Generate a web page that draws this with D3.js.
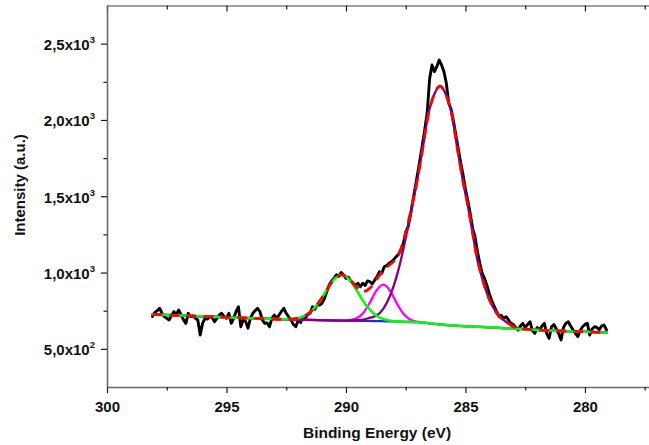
<!DOCTYPE html>
<html>
<head>
<meta charset="utf-8">
<script src="https://cdn.jsdelivr.net/npm/d3@7"></script>
<style>
  html, body { margin: 0; padding: 0; background: #ffffff; }
  svg { display: block; }
  text { font-family: "Liberation Sans", Arial, sans-serif; font-weight: bold; fill: #111; }
</style>
</head>
<body>
<svg id="chart" width="649" height="445"></svg>
<script>
// ---- C 1s spectrum: measured counts ----
const rawEnergy = [
  298.1, 298.0, 297.9, 297.8, 297.7, 297.6, 297.5, 297.4, 297.3, 297.2,
  297.1, 297.0, 296.9, 296.8, 296.7, 296.6, 296.5, 296.4, 296.3, 296.2,
  296.1, 296.0, 295.9, 295.8, 295.7, 295.6, 295.5, 295.4, 295.3, 295.2,
  295.1, 295.0, 294.9, 294.8, 294.7, 294.6, 294.5, 294.4, 294.3, 294.2,
  294.1, 294.0, 293.9, 293.8, 293.7, 293.6, 293.5, 293.4, 293.3, 293.2,
  293.1, 293.0, 292.9, 292.8, 292.7, 292.6, 292.5, 292.4, 292.3, 292.2,
  292.1, 292.0, 291.9, 291.8, 291.7, 291.6, 291.5, 291.4, 291.3, 291.2,
  291.1, 291.0, 290.9, 290.8, 290.7, 290.6, 290.5, 290.4, 290.3, 290.2,
  290.1, 290.0, 289.9, 289.8, 289.7, 289.6, 289.5, 289.4, 289.3, 289.2,
  289.1, 289.0, 288.9, 288.8, 288.7, 288.6, 288.5, 288.4, 288.3, 288.2,
  288.1, 288.0, 287.9, 287.8, 287.7, 287.6, 287.5, 287.4, 287.3, 287.2,
  287.1, 287.0, 286.9, 286.8, 286.7, 286.6, 286.5, 286.4, 286.3, 286.2,
  286.1, 286.0, 285.9, 285.8, 285.7, 285.6, 285.5, 285.4, 285.3, 285.2,
  285.1, 285.0, 284.9, 284.8, 284.7, 284.6, 284.5, 284.4, 284.3, 284.2,
  284.1, 284.0, 283.9, 283.8, 283.7, 283.6, 283.5, 283.4, 283.3, 283.2,
  283.1, 283.0, 282.9, 282.8, 282.7, 282.6, 282.5, 282.4, 282.3, 282.2,
  282.1, 282.0, 281.9, 281.8, 281.7, 281.6, 281.5, 281.4, 281.3, 281.2,
  281.1, 281.0, 280.9, 280.8, 280.7, 280.6, 280.5, 280.4, 280.3, 280.2,
  280.1, 280.0, 279.9, 279.8, 279.7, 279.6, 279.5, 279.4, 279.3, 279.2,
  279.1
];
const rawIntensity = [
  712, 738, 750, 766, 735, 711, 700, 689, 720, 743,
  725, 755, 722, 690, 667, 733, 711, 716, 700, 689,
  591, 667, 700, 695, 711, 705, 678, 700, 722, 733,
  712, 700, 733, 667, 700, 745, 776, 645, 690, 680,
  635, 700, 733, 750, 766, 743, 690, 667, 670, 645,
  700, 722, 700, 722, 745, 766, 733, 710, 689, 660,
  645, 690, 672, 711, 700, 725, 733, 776, 760, 790,
  787, 800, 830, 875, 920, 945, 962, 985, 975, 1000,
  985, 962, 970, 945, 930, 915, 930, 907, 930, 915,
  945, 940, 925, 950, 973, 1005, 995, 1038, 1045, 1060,
  1071, 1085, 1104, 1120, 1148, 1190, 1265, 1300, 1380, 1470,
  1560, 1650, 1745, 1840, 1940, 2050, 2270, 2360, 2316, 2349,
  2393, 2360, 2316, 2240, 2109, 2070, 1990, 1900, 1810, 1720,
  1640, 1545, 1470, 1385, 1290, 1235, 1140, 1060, 995, 960,
  915, 860, 815, 780, 745, 712, 720, 700, 711, 690,
  667, 660, 640, 624, 650, 667, 640, 660, 678, 620,
  601, 640, 624, 650, 667, 600, 569, 645, 660, 630,
  601, 558, 640, 667, 678, 650, 625, 601, 580, 620,
  645, 660, 667, 591, 630, 645, 640, 625, 650, 656,
  624
];

// ---- background (blue) ----
const baseEnergy    = [298.1, 296, 294, 292, 290, 288, 287, 286, 285, 284, 283, 282, 281, 280, 279.1];
const baseIntensity = [726, 713, 701, 691, 685, 680, 675, 659, 648, 641, 632, 624, 617, 612, 606];

// ---- component near 290.2 eV (green), drawn on the background ----
const peakAEnergy = [298.1, 296, 294, 292.58, 292.28, 291.98, 291.68, 291.38, 291.08, 290.78, 290.48,
  290.18, 289.88, 289.58, 289.28, 288.98, 288.68, 288.38, 288.08, 287.78, 287, 286, 285, 284, 283,
  282, 281, 280, 279.1];
const peakAIntensity = [726, 713, 701, 694, 695, 702, 720, 758, 818, 893, 958,
  984, 957, 890, 813, 752, 712, 692, 683, 679, 675, 659, 648, 641, 632,
  624, 617, 612, 606];

// ---- component near 288.4 eV (magenta) ----
const peakBEnergy = [298.1, 296, 294, 292, 290, 289.84, 289.56, 289.28, 289.0, 288.72, 288.44,
  288.16, 287.88, 287.6, 287.32, 287.04, 286.7, 286, 285, 284, 283, 282, 281, 280, 279.1];
const peakBIntensity = [726, 713, 701, 691, 685, 688, 700, 735, 804, 884, 921,
  882, 800, 730, 693, 678, 670, 659, 648, 641, 632, 624, 617, 612, 606];

// ---- main component near 286.1 eV (purple) ----
const peakCEnergy = [298.1, 296, 294, 292, 290, 289.4, 289.0, 288.72, 288.44, 288.16, 287.88,
  287.67, 287.46, 287.25, 287.04, 286.8, 286.55, 286.3, 286.07, 285.83, 285.58, 285.33, 285.09,
  284.88, 284.7, 284.53, 284.32, 284.05, 283.69, 283.21, 282.8, 282, 281, 280, 279.1];
const peakCIntensity = [726, 713, 701, 691, 685, 689, 704, 718, 762, 846, 975,
  1104, 1257, 1421, 1585, 1803, 2040, 2170, 2222, 2170, 2040, 1803, 1585,
  1421, 1257, 1104, 973, 842, 733, 667, 634, 624, 617, 612, 606];

// ---- cumulative fit (red, dashed) ----
const fitEnergy = [298.1, 296, 294, 292.58, 292.28, 291.98, 291.68, 291.38, 291.08, 290.78, 290.48,
  290.18, 289.88, 289.58, 289.28, 288.98, 288.68, 288.44, 288.16, 287.88, 287.67, 287.46, 287.25,
  287.04, 286.8, 286.55, 286.3, 286.07, 285.83, 285.58, 285.33, 285.09, 284.88, 284.7, 284.53,
  284.32, 284.05, 283.69, 283.21, 282.8, 282, 281, 280, 279.1];
const fitIntensity = [726, 713, 701, 694, 695, 702, 720, 758, 818, 893, 958,
  985, 960, 907, 875, 900, 965, 1016, 1053, 1097, 1170, 1287, 1432,
  1588, 1803, 2040, 2170, 2222, 2170, 2040, 1803, 1585, 1421, 1257, 1104,
  973, 842, 733, 667, 634, 624, 617, 612, 606];

// ---- axes ----
const xMajorTicks = [300, 295, 290, 285, 280];
const xMinorTicks = [297.5, 292.5, 287.5, 282.5, 277.5];
const yMajorTicks = [500, 1000, 1500, 2000, 2500];
const yMinorTicks = [750, 1250, 1750, 2250];
const yTickMantissa = ["5,0x10", "1,0x10", "1,5x10", "2,0x10", "2,5x10"];
const yTickExponent = ["2", "3", "3", "3", "3"];
const xTitle = "Binding Energy (eV)";
const yTitle = "Intensity (a.u.)";

const svg = d3.select("#chart");
const plotLeft = 107, plotRight = 649, plotTop = 5.5, plotBottom = 387;

const x = d3.scaleLinear().domain([300, 277.32]).range([plotLeft, plotRight]);
const y = d3.scaleLinear().domain([250, 2750]).range([plotBottom, plotTop]);

const axisColor = "#6a6a6a";
const tickColor = "#1a1a1a";
const labelFont = "Liberation Sans, Arial, sans-serif";

function styleAxis(g) {
  g.select(".domain").attr("stroke", axisColor).attr("stroke-width", 1.6);
  g.selectAll(".tick line").attr("stroke", tickColor).attr("stroke-width", 1.2);
}

// bottom axis
const xMajor = svg.append("g").attr("transform", `translate(0,${plotBottom})`)
  .call(d3.axisBottom(x).tickValues(xMajorTicks).tickSize(6).tickSizeOuter(0)
    .tickPadding(8).tickFormat(d3.format("d")));
styleAxis(xMajor);
xMajor.selectAll("text").attr("font-size", 15).attr("font-family", labelFont)
  .attr("font-weight", "bold").attr("fill", "#111");
const xMinor = svg.append("g").attr("transform", `translate(0,${plotBottom})`)
  .call(d3.axisBottom(x).tickValues(xMinorTicks).tickSize(3.5).tickSizeOuter(0).tickFormat(""));
styleAxis(xMinor);
xMinor.select(".domain").remove();

// top frame with inward ticks
const xTop = svg.append("g").attr("transform", `translate(0,${plotTop})`)
  .call(d3.axisBottom(x).tickValues(xMajorTicks).tickSize(6).tickSizeOuter(0).tickFormat(""));
styleAxis(xTop);
xTop.select(".domain").attr("stroke", "#808080").attr("stroke-width", 1.4);
const xTopMinor = svg.append("g").attr("transform", `translate(0,${plotTop})`)
  .call(d3.axisBottom(x).tickValues(xMinorTicks).tickSize(4).tickSizeOuter(0).tickFormat(""));
styleAxis(xTopMinor);
xTopMinor.select(".domain").remove();

// left axis
const yMajor = svg.append("g").attr("transform", `translate(${plotLeft},0)`)
  .call(d3.axisLeft(y).tickValues(yMajorTicks).tickSize(6).tickSizeOuter(0)
    .tickPadding(6).tickFormat(""));
styleAxis(yMajor);
yMajor.selectAll(".tick text").each(function(d, i) {
  const t = d3.select(this).attr("font-size", 15).attr("dy", "0.4em")
    .attr("font-family", labelFont).attr("font-weight", "bold").attr("fill", "#111");
  t.append("tspan").text(yTickMantissa[i]);
  t.append("tspan").attr("font-size", 9.5).attr("dy", "-0.75em").text(yTickExponent[i]);
});
const yMinor = svg.append("g").attr("transform", `translate(${plotLeft},0)`)
  .call(d3.axisLeft(y).tickValues(yMinorTicks).tickSize(3.5).tickSizeOuter(0).tickFormat(""));
styleAxis(yMinor);
yMinor.select(".domain").remove();

// axis titles
svg.append("text").attr("x", 377).attr("y", 438).attr("text-anchor", "middle")
  .attr("font-size", 15.5).text(xTitle);
svg.append("text").attr("transform", "translate(24.5,185) rotate(-90)")
  .attr("text-anchor", "middle").attr("font-size", 15).text(yTitle);

// ---- curves ----
const zip = (es, vs) => es.map((e, i) => [e, vs[i]]);
const smooth = d3.line().x(d => x(d[0])).y(d => y(d[1])).curve(d3.curveMonotoneX);
const raw = d3.line().x(d => x(d[0])).y(d => y(d[1]));

const plot = svg.append("g").attr("fill", "none")
  .attr("stroke-linejoin", "round").attr("stroke-linecap", "round");

plot.append("path").attr("d", raw(zip(rawEnergy, rawIntensity)))
  .attr("stroke", "#000000").attr("stroke-width", 2.9);
plot.append("path").attr("d", smooth(zip(baseEnergy, baseIntensity)))
  .attr("stroke", "#2020ff").attr("stroke-width", 2.2);
plot.append("path").attr("d", smooth(zip(peakBEnergy, peakBIntensity)))
  .attr("stroke", "#ff00ff").attr("stroke-width", 2.3);
plot.append("path").attr("d", smooth(zip(peakCEnergy, peakCIntensity)))
  .attr("stroke", "#800080").attr("stroke-width", 2.3);
plot.append("path").attr("d", smooth(zip(peakAEnergy, peakAIntensity)))
  .attr("stroke", "#00ff00").attr("stroke-width", 2.5);
plot.append("path").attr("d", smooth(zip(fitEnergy, fitIntensity)))
  .attr("stroke", "#ff0000").attr("stroke-width", 2.8)
  .attr("stroke-linecap", "butt").attr("stroke-dasharray", "10,7");
</script>
</body>
</html>
